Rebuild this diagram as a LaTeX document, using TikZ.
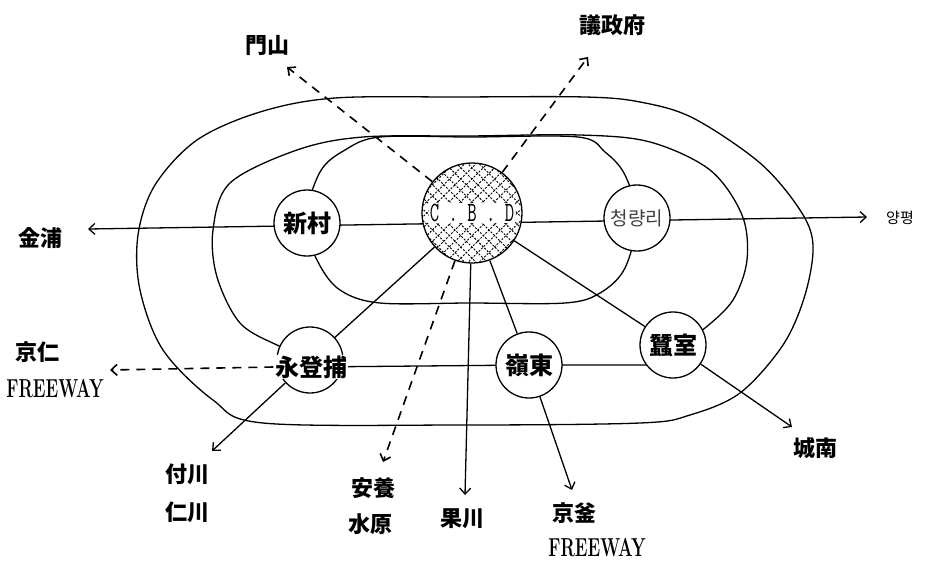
\documentclass[tikz,border=0pt]{standalone}
\usepackage{fontspec}
\newfontfamily\cjk{Noto Sans CJK KR}
\usetikzlibrary{arrows.meta,backgrounds}
\newcommand\fwy{\scalebox{0.66}[1]{\fontsize{26}{28}\selectfont\bfseries FREEWAY}}
\begin{document}
\begin{tikzpicture}[x=1pt,y=-1pt,
  ln/.style={line width=1.3pt},
  ln,
  >={Straight Barb[length=6pt,width=11pt]},
  place/.style={circle,draw,ln,fill=white,inner sep=0pt,minimum size=66pt,font=\cjk\bfseries\fontsize{24}{26}\selectfont},
  lbl/.style={inner sep=0pt,font=\cjk\bfseries\fontsize{22}{24}\selectfont},
  dsh/.style={line width=1.6pt,dash pattern=on 9pt off 7pt},
]
\useasboundingbox (0,0) rectangle (925,562);

% places
\node[place] (sinchon) at (307,223) {新村};
\node[circle,draw,ln,fill=white,inner sep=0pt,minimum size=100pt] (cbd) at (472,213) {};
\begin{scope}
  \clip (472,213) circle[radius=50];
  \begin{scope}[shift={(472,213)},rotate=45]
    \foreach \d in {-64,-56,...,64}{
      \draw[line width=0.9pt,dash pattern=on 2pt off 1.5pt] (\d,-75) -- (\d,75);
      \draw[line width=0.9pt,dash pattern=on 2pt off 1.5pt] (-75,\d) -- (75,\d);
    }
  \end{scope}
\end{scope}
\node[fill=white,inner sep=1pt] (cbdtext) at (472,213) {\scalebox{0.65}[1]{\fontsize{28}{30}\selectfont\ttfamily C . B . D}};
\node[place,font=\cjk\fontsize{19}{21}\selectfont\color{black!75}] (cheong) at (637,218) {청량리};
\node[place] (ydpc) at (310,360) {};
\node[fill=white,inner sep=1pt,font=\cjk\bfseries\fontsize{24}{26}\selectfont] (ydp) at (311,367) {永登捕};
\node[place] (yeongdong) at (529,365) {嶺東};
\node[place] (jamsil) at (673,345) {蠶室};

% labels
\node[lbl] (munsan) at (267,45) {門山};
\node[lbl] (uijeongbu) at (612,25) {議政府};
\node[lbl] (kimpo) at (40,238) {金浦};
\node[inner sep=0pt,font=\cjk\fontsize{15}{17}\selectfont] (yangpyeong) at (900,218) {양평};
\node[lbl] (gyeongin) at (38,352) {京仁};
\node[inner sep=0pt] (fw1) at (55,389) {\fwy};
\node[lbl] (bucheon) at (187,474) {付川};
\node[lbl] (incheon) at (187,512) {仁川};
\node[lbl] (anyang) at (373,488) {安養};
\node[lbl] (suwon) at (370,524) {水原};
\node[lbl] (gwacheon) at (462,519) {果川};
\node[lbl] (gyeongbu) at (574,513) {京釜};
\node[inner sep=0pt] (fw2) at (597,548) {\fwy};
\node[lbl] (seongnam) at (815,448) {城南};

% arrow tips
\coordinate (kimpoT) at (88,229);
\coordinate (yangT) at (867,217);
\coordinate (gyeonginT) at (110,370);
\coordinate (munT) at (287,67);
\coordinate (uiT) at (588,57);
\coordinate (bucheonT) at (212,451);
\coordinate (anT) at (383,462);
\coordinate (gwaT) at (465,495);
\coordinate (gbT) at (572,490);
\coordinate (snT) at (792,427);

\begin{scope}[on background layer,ln]
  % outer ring
  \draw[ln] plot[smooth cycle, tension=0.55] coordinates {(335,98) (460,97) (585,97) (640,102) (693,118) (760,163) (800,210) (813,245) (805,295) (783,345) (740,393) (690,415) (640,423) (460,425) (263,423) (213,400) (163,350) (140,290) (138,235) (155,185) (197,140) (260,112)};
  % second ring
  \draw[ln] plot[smooth, tension=0.55] coordinates {(300,352) (277,345) (240,323) (217,277) (213,230) (230,183) (297,150) (363,137) (470,136) (580,135) (650,142) (710,170) (742,215) (747,260) (733,300) (705,328) (685,340)};
  % inner ring
  \draw[ln] plot[smooth cycle, tension=0.55] coordinates {(380,137) (345,150) (320,172) (305,222) (318,262) (340,290) (380,303) (470,303) (565,303) (600,293) (625,268) (637,218) (625,175) (605,152) (578,137) (470,137)};
  % main east-west line
  \draw[ln,<->] (kimpoT) -- (yangT);
  % south line
  \draw[ln] (ydp.center) -- (yeongdong.center) -- (jamsil.center |- yeongdong.center);
\end{scope}

\draw[dsh,->] (ydp.west) -- (gyeonginT);
\draw[ln] (cbd) -- (ydpc);
\draw[ln,->] (ydpc) -- (bucheonT);
\draw[ln] (cbd) -- (yeongdong);
\draw[ln,->] (yeongdong) -- (gbT);
\draw[ln] (cbd) -- (jamsil);
\draw[ln,->] (jamsil) -- (snT);
\draw[ln,->] (cbd) -- (gwaT);
\draw[dsh,->] (cbd) -- (anT);
\draw[dsh,->] (cbd) -- (munT);
\draw[dsh,->] (cbd) -- (uiT);
\end{tikzpicture}
\end{document}
